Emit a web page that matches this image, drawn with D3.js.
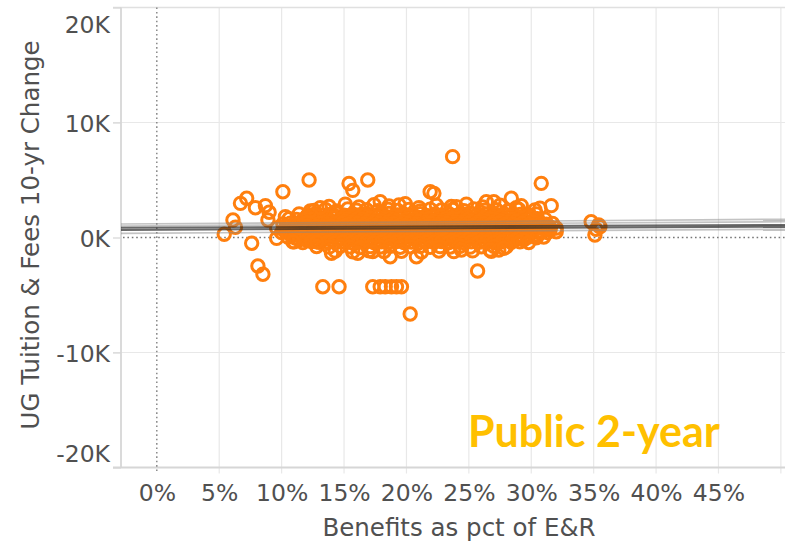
<!DOCTYPE html>
<html><head><meta charset="utf-8">
<script src="https://cdn.jsdelivr.net/npm/d3@7"></script>
<style>body{margin:0;background:#fff} svg{display:block} text{font-family:"DejaVu Sans",sans-serif}</style>
</head><body><svg id="c" width="785" height="543"></svg>
<script>
const xTickValues=[0,5,10,15,20,25,30,35,40,45];
const xGridValues=[5,10,15,20,25,30,35,40,45,50];
const yTickValues=[-20000,-10000,0,10000,20000];
const xTitle="Benefits as pct of E&R";
const yTitle="UG Tuition & Fees 10-yr Change";
const panelLabel="Public 2-year";

const clusterPoints=[
[13.8,2700],[15.1,2900],[16.2,2650],[17.4,2850],[18.6,2750],[19.9,2950],[21.0,2600],[22.4,2800],[23.6,2700],[24.8,2900],[26.1,2650],[27.5,2800],[28.8,2600],
[12.6,2350],[13.5,2450],[14.4,2300],[15.3,2480],[16.0,2380],[16.8,2420],[17.7,2330],[18.5,2470],[19.3,2360],[20.2,2440],[21.1,2310],[21.9,2460],[22.8,2390],[23.7,2430],[24.6,2340],[25.4,2480],[26.3,2370],[27.2,2420],[28.1,2320],[29.0,2450],
[11.4,2050],[12.1,1960],[12.7,2080],[13.2,1930],[13.9,2010],[14.5,2090],[15.0,1950],[15.7,2040],[16.3,1980],[16.8,2070],[17.5,1940],[18.1,2020],[18.6,2100],[19.3,1960],[19.8,2030],[20.5,1990],[21.1,2080],[21.6,1920],[22.3,2050],[22.9,1970],[23.4,2060],[24.1,1940],[24.7,2020],[25.2,2090],[25.9,1950],[26.5,2040],[27.1,1980],[27.8,2070],[28.4,1930],[29.1,2010],[29.8,1960],[30.4,2050],
[12.0,1780],[12.9,1830],[13.6,1760],[14.3,1850],[15.0,1790],[15.6,1820],[16.2,1750],[16.9,1860],[17.6,1800],[18.3,1770],[18.9,1840],[19.6,1790],[20.2,1860],[20.9,1760],[21.5,1820],[22.2,1800],[22.8,1850],[23.5,1770],[24.2,1830],[24.8,1790],[25.5,1860],[26.2,1760],[26.9,1820],[27.6,1800],[28.3,1840],[29.0,1770],[29.7,1810],
[10.6,1630],[11.2,1560],[11.9,1650],[12.4,1580],[13.0,1620],[13.6,1540],[14.2,1670],[14.8,1590],[15.3,1640],[15.9,1560],[16.5,1610],[17.1,1680],[17.6,1550],[18.3,1620],[18.9,1580],[19.4,1660],[20.0,1570],[20.7,1640],[21.3,1590],[21.8,1650],[22.5,1540],[23.1,1620],[23.6,1600],[24.3,1670],[24.9,1560],[25.5,1630],[26.0,1580],[26.7,1650],[27.3,1550],[27.9,1620],[28.5,1590],[29.2,1660],[29.8,1570],[30.5,1640],[31.1,1600],
[11.6,1420],[12.2,1370],[12.8,1440],[13.4,1390],[14.0,1410],[14.6,1360],[15.1,1450],[15.7,1380],[16.3,1420],[16.9,1400],[17.4,1350],[18.0,1440],[18.6,1390],[19.2,1430],[19.7,1370],[20.4,1410],[21.0,1450],[21.6,1380],[22.2,1420],[22.8,1360],[23.3,1440],[23.9,1400],[24.6,1370],[25.2,1430],[25.8,1390],[26.4,1450],[27.0,1380],[27.6,1410],[28.2,1360],[28.8,1440],[29.5,1400],[30.1,1380],
[10.1,1180],[10.7,1250],[11.3,1160],[11.8,1230],[12.5,1190],[13.1,1270],[13.7,1150],[14.3,1220],[14.9,1260],[15.4,1170],[16.1,1240],[16.6,1200],[17.2,1130],[17.8,1260],[18.4,1190],[19.0,1230],[19.6,1160],[20.2,1250],[20.8,1210],[21.4,1140],[22.0,1270],[22.6,1180],[23.2,1240],[23.8,1200],[24.4,1160],[25.0,1250],[25.6,1190],[26.2,1230],[26.8,1150],[27.4,1260],[28.0,1200],[28.6,1170],[29.3,1240],[29.9,1190],[30.5,1250],[31.2,1160],[31.7,1220],
[10.4,1010],[11.0,970],[11.6,1040],[12.1,990],[12.8,960],[13.4,1030],[14.0,1000],[14.6,950],[15.1,1050],[15.7,980],[16.3,1020],[16.9,970],[17.5,1040],[18.1,990],[18.7,1010],[19.3,960],[19.9,1050],[20.5,1000],[21.1,970],[21.7,1030],[22.3,990],[22.9,1040],[23.5,960],[24.1,1010],[24.7,980],[25.3,1050],[25.9,990],[26.5,960],[27.1,1030],[27.7,1000],[28.3,970],[28.9,1040],[29.6,990],[30.2,1020],[30.8,960],[31.4,1010],
[9.6,820],[10.3,760],[10.9,850],[11.5,780],[12.2,830],[12.8,740],[13.4,870],[14.0,790],[14.6,810],[15.2,760],[15.8,850],[16.4,780],[17.0,830],[17.5,750],[18.1,860],[18.7,800],[19.3,770],[19.9,840],[20.5,790],[21.1,860],[21.7,740],[22.3,820],[22.9,780],[23.5,850],[24.1,760],[24.7,830],[25.3,800],[25.9,870],[26.5,750],[27.1,820],[27.7,790],[28.3,840],[28.9,760],[29.6,830],[30.2,780],[30.8,850],[31.4,770],[32.0,820],
[10.2,610],[10.8,570],[11.4,640],[12.0,590],[12.6,620],[13.2,560],[13.8,630],[14.4,600],[15.0,580],[15.6,640],[16.2,590],[16.8,620],[17.4,570],[18.0,630],[18.6,600],[19.2,560],[19.8,640],[20.4,590],[21.0,610],[21.6,570],[22.2,630],[22.8,600],[23.4,640],[24.0,580],[24.6,610],[25.2,570],[25.8,630],[26.4,600],[27.0,560],[27.6,620],[28.2,590],[28.8,640],[29.4,580],[30.1,610],[30.8,570],[31.5,620],
[10.0,420],[10.6,360],[11.2,450],[11.9,380],[12.5,430],[13.1,350],[13.8,410],[14.4,460],[15.0,370],[15.5,440],[16.2,390],[16.7,430],[17.3,350],[17.9,420],[18.5,380],[19.1,450],[19.7,400],[20.3,360],[20.9,440],[21.5,380],[22.1,420],[22.7,350],[23.3,460],[23.9,390],[24.5,430],[25.1,370],[25.7,410],[26.3,450],[26.9,360],[27.5,420],[28.1,390],[28.7,440],[29.4,370],[30.0,410],[30.7,380],[31.3,430],
[10.8,210],[11.4,170],[12.0,230],[12.7,190],[13.3,220],[13.9,160],[14.5,240],[15.2,200],[15.8,180],[16.4,230],[17.0,190],[17.6,210],[18.2,170],[18.8,240],[19.4,200],[20.0,180],[20.6,220],[21.2,160],[21.8,230],[22.4,190],[23.0,210],[23.6,170],[24.2,240],[24.8,200],[25.4,180],[26.0,220],[26.6,190],[27.2,230],[27.8,170],[28.4,210],[29.0,190],[29.7,220],[30.5,180],
[10.5,30],[11.1,-40],[11.7,50],[12.3,-20],[12.9,40],[13.5,-60],[14.1,20],[14.7,-30],[15.3,60],[15.9,-50],[16.5,10],[17.0,-40],[17.6,50],[18.2,-20],[18.8,30],[19.4,-60],[20.0,40],[20.6,-10],[21.2,50],[21.8,-40],[22.4,20],[23.0,-50],[23.6,30],[24.2,-20],[24.8,60],[25.4,-30],[26.0,10],[26.6,-50],[27.2,40],[27.8,-10],[28.4,30],[29.0,-40],[29.7,20],[30.4,-30],[31.0,40],
[11.4,-190],[12.0,-230],[12.7,-170],[13.3,-210],[14.0,-240],[14.6,-180],[15.2,-220],[15.9,-160],[16.5,-200],[17.1,-240],[17.7,-190],[18.3,-210],[18.9,-170],[19.5,-230],[20.1,-200],[20.7,-180],[21.3,-240],[21.9,-190],[22.5,-220],[23.1,-170],[23.7,-210],[24.3,-230],[24.9,-180],[25.5,-200],[26.1,-240],[26.7,-170],[27.3,-210],[28.0,-190],[28.7,-230],[29.4,-200],
[11.0,-380],[11.7,-440],[12.4,-360],[13.0,-420],[13.7,-390],[14.3,-460],[14.9,-370],[15.6,-430],[16.2,-400],[16.8,-350],[17.4,-450],[18.0,-380],[18.6,-420],[19.2,-360],[19.8,-440],[20.4,-390],[21.0,-460],[21.6,-370],[22.2,-410],[22.8,-350],[23.4,-430],[24.0,-390],[24.6,-450],[25.2,-370],[25.8,-420],[26.4,-380],[27.0,-440],[27.7,-360],[28.4,-410],[29.1,-380],[29.8,-430],
[12.8,-780],[13.8,-840],[14.7,-760],[15.5,-820],[16.3,-870],[17.1,-790],[17.9,-830],[18.7,-760],[19.5,-850],[20.3,-800],[21.1,-770],[21.9,-860],[22.7,-790],[23.5,-830],[24.3,-760],[25.1,-840],[26.0,-800],[27.0,-770],[28.0,-820],
[14.3,-1180],[15.7,-1250],[17.0,-1150],[18.2,-1220],[19.6,-1190],[21.2,-1260],[22.6,-1170],[23.8,-1230],[25.3,-1160],[26.8,-1210]
];

const outlierPoints=[
[5.4,280],[6.1,1520],[6.3,890],[6.7,2970],[7.2,3410],[7.9,2590],[8.7,2770],[10.1,3980],[12.2,5000],
[7.6,-500],[8.1,-2480],[8.5,-3200],[8.9,1520],[9.0,2200],[9.6,-70],[10.3,1810],[10.9,-370],[12.3,2300],[12.8,-370],[13.1,2600],[14.0,-1370],
[13.3,-4280],[14.6,-4280],[17.3,-4280],[17.9,-4280],[18.3,-4280],[18.8,-4280],[19.2,-4280],[19.6,-4280],
[15.4,4700],[15.7,4100],[16.9,5000],[17.9,3110],[19.4,2830],[21.9,3980],[22.2,3840],[24.0,2680],[23.7,7030],
[26.4,3110],[27.0,3110],[28.4,3410],[29.2,2770],[30.3,2390],[30.7,2540],[31.6,2770],[30.8,4710],
[16.1,-1370],[17.3,-1230],[18.7,-1670],[20.8,-1670],[24.4,-1090],[25.7,-2910],[20.3,-6650],[26.7,-1090],[27.4,-1090],[27.8,-940],
[32.0,500],[31.5,800],[34.8,1370],[35.4,1090],[35.1,220],[35.5,940],[35.2,710]
];

// trend lines: value at 0% and at 50%
const trendAt0=[1196,1020,865,667,384];
const trendAt50=[1580,1372,1086,937,711];
const trendDark=[false,false,true,true,false];

(function(){
const svg=d3.select("#c");
const pLeft=121, pRight=785, pTop=7.5, pBottom=467.5;
const x=d3.scaleLinear().domain([-2.87,50.33]).range([pLeft,pRight]);
const y=d3.scaleLinear().domain([-20000,20000]).range([pBottom,pTop]);
const textColor="#505050";

svg.append("g").selectAll("line").data(xGridValues).join("line")
  .attr("x1",d=>x(d)).attr("x2",d=>x(d)).attr("y1",pTop).attr("y2",pBottom+6)
  .attr("stroke","#e8e8e8").attr("stroke-width",1.2);
svg.append("g").selectAll("line").data([-10000,10000]).join("line")
  .attr("x1",pLeft-8).attr("x2",pRight).attr("y1",d=>y(d)).attr("y2",d=>y(d))
  .attr("stroke","#e8e8e8").attr("stroke-width",1.2);
svg.append("line").attr("x1",pLeft-8).attr("x2",pRight).attr("y1",y(20000)).attr("y2",y(20000))
  .attr("stroke","#e0e0e0").attr("stroke-width",1.5);
svg.append("line").attr("x1",pLeft-8).attr("x2",pRight).attr("y1",y(-20000)).attr("y2",y(-20000))
  .attr("stroke","#d6d6d6").attr("stroke-width",1.8);
svg.append("line").attr("x1",pLeft).attr("x2",pLeft).attr("y1",pTop).attr("y2",pBottom)
  .attr("stroke","#d6d6d6").attr("stroke-width",1.8);

svg.append("line").attr("x1",x(0)).attr("x2",x(0)).attr("y1",pTop).attr("y2",pBottom+5)
  .attr("stroke","#777").attr("stroke-width",1.3).attr("stroke-dasharray","1.6,2.8");
svg.append("line").attr("x1",pLeft+2).attr("x2",pRight).attr("y1",y(0)).attr("y2",y(0))
  .attr("stroke","#777").attr("stroke-width",1.3).attr("stroke-dasharray","1.6,2.8");

const yAxis=d3.axisLeft(y).tickValues(yTickValues).tickFormat(d=>`${d/1000}K`).tickSize(8).tickPadding(3);
const gy=svg.append("g").attr("transform",`translate(${pLeft},0)`).call(yAxis);
gy.select(".domain").remove();
gy.selectAll(".tick line").attr("stroke","#d6d6d6").attr("stroke-width",1.2);
gy.selectAll(".tick text").attr("fill",textColor).style("font-size","23.5px")
  .style("font-family","'DejaVu Sans',sans-serif")
  .attr("dy",d=>d===20000?"24.5px":(d===-20000?"-5.8px":"9px"));

const xAxis=d3.axisBottom(x).tickValues(xTickValues).tickFormat(d=>`${d}%`).tickSize(0);
const gx=svg.append("g").attr("transform",`translate(0,${pBottom})`).call(xAxis);
gx.select(".domain").remove();
gx.selectAll(".tick line").remove();
gx.selectAll(".tick text").attr("fill",textColor).style("font-size","23.5px")
  .style("font-family","'DejaVu Sans',sans-serif").attr("y",33).attr("dy",0);

const allPoints=clusterPoints.concat(outlierPoints);
svg.append("g").selectAll("circle").data(allPoints).join("circle")
  .attr("cx",d=>x(d[0])).attr("cy",d=>y(d[1])).attr("r",6.2)
  .attr("fill","none").attr("stroke","#ff7f0e").attr("stroke-width",3);

const xd=x.domain();
svg.append("g").selectAll("line").data(trendAt0.map((a,i)=>({a,b:trendAt50[i],dark:trendDark[i]}))).join("line")
  .attr("x1",x(xd[0])).attr("x2",x(xd[1]))
  .attr("y1",d=>y(d.a+(d.b-d.a)*xd[0]/50)).attr("y2",d=>y(d.a+(d.b-d.a)*xd[1]/50))
  .attr("stroke",d=>d.dark?"#2a2a2a":"#888").attr("stroke-opacity",d=>d.dark?0.7:0.5).attr("stroke-width",d=>d.dark?2:1.7);

svg.append("text").attr("x",459).attr("y",536).attr("text-anchor","middle")
  .attr("fill",textColor).style("font-size","24.5px").text(xTitle);
svg.append("text").attr("transform","translate(38.5,235) rotate(-90)").attr("text-anchor","middle")
  .attr("fill",textColor).style("font-size","24.5px").text(yTitle);

svg.append("text").attr("x",468).attr("y",447).attr("fill","#ffc000")
  .style("font-family","Lato, sans-serif").style("font-weight","bold").style("font-size","43px").text(panelLabel);
})();
</script></body></html>
